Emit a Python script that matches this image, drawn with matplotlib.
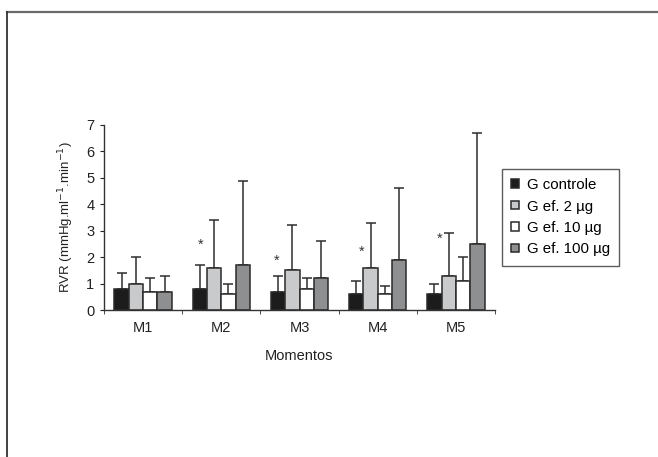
import matplotlib
matplotlib.use("Agg")
import matplotlib.pyplot as plt
import numpy as np
from matplotlib.lines import Line2D

plt.rcParams['font.family'] = ['Liberation Sans', 'DejaVu Sans']

categories = ["M1", "M2", "M3", "M4", "M5"]
series_names = ["G controle", "G ef. 2 µg", "G ef. 10 µg", "G ef. 100 µg"]
means = {
    "G controle":   [0.8, 0.8, 0.7, 0.6, 0.6],
    "G ef. 2 µg":   [1.0, 1.6, 1.5, 1.6, 1.3],
    "G ef. 10 µg":  [0.7, 0.6, 0.8, 0.6, 1.1],
    "G ef. 100 µg": [0.7, 1.7, 1.2, 1.9, 2.5],
}
upper = {
    "G controle":   [1.4, 1.7, 1.3, 1.1, 1.0],
    "G ef. 2 µg":   [2.0, 3.4, 3.2, 3.3, 2.9],
    "G ef. 10 µg":  [1.2, 1.0, 1.2, 0.9, 2.0],
    "G ef. 100 µg": [1.3, 4.9, 2.6, 4.6, 6.7],
}
colors = ["#1c1c1c", "#c9cacb", "#ffffff", "#8e8f91"]
star_cats = ["M2", "M3", "M4", "M5"]
star_y = [2.45, 1.85, 2.2, 2.7]
star_dx = [-0.27, -0.29, -0.21, -0.21]

fig = plt.figure(figsize=(6.58, 4.57), dpi=100)
# outer frame lines
fig.add_artist(Line2D([7/658, 1.0], [1-12/457, 1-12/457], color="#6a6a6a", lw=1.6, transform=fig.transFigure))
fig.add_artist(Line2D([7/658, 7/658], [0, 1-12/457], color="#333333", lw=1.3, transform=fig.transFigure))

ax = fig.add_axes([104/658, 1-310/457, 391/658, 185/457])
x = np.arange(len(categories))
w = 0.183
for i, name in enumerate(series_names):
    pos = x + (i - 1.5) * w
    m = np.array(means[name])
    u = np.array(upper[name])
    ax.errorbar(pos, m, yerr=[np.zeros_like(m), u - m], fmt='none', ecolor="#2e2e2e",
                elinewidth=1.1, capsize=3.5, capthick=1.1, zorder=1)
    ax.bar(pos, m, width=w, color=colors[i], edgecolor="#2a2a2a", linewidth=1.1,
           label=name, zorder=2)

for c, yv, dx in zip(star_cats, star_y, star_dx):
    ci = categories.index(c)
    ax.text(ci + dx, yv, "*", ha="center", va="center", fontsize=10.5, color="#333333")

ax.set_xlim(-0.5, len(categories) - 0.5)
ax.set_ylim(0, 7)
ax.set_yticks(range(0, 8))
ax.set_xticks(x)
ax.set_xticklabels(categories)
ax.set_xticks(np.arange(-0.5, len(categories)), minor=True)
ax.tick_params(axis='x', which='major', length=0, pad=8, labelsize=10.5, colors="#222222")
ax.tick_params(axis='x', which='minor', length=3, direction='out', color="#333333")
ax.tick_params(axis='y', length=3, direction='out', labelsize=10.5, colors="#222222", pad=4)
for s in ["top", "right"]:
    ax.spines[s].set_visible(False)
for s in ["left", "bottom"]:
    ax.spines[s].set_color("#333333")
    ax.spines[s].set_linewidth(1.0)
ax.set_xlabel("Momentos", fontsize=10.5, color="#222222", labelpad=10)
ax.set_ylabel("RVR (mmHg.ml$^{-1}$.min$^{-1}$)", fontsize=9.5, color="#222222", labelpad=7)

leg = fig.legend(loc="upper left", bbox_to_anchor=(502/658, 1-169/457), fontsize=10.8,
                 borderaxespad=0, handlelength=0.5, handleheight=0.5, handletextpad=0.55,
                 labelspacing=0.5, borderpad=0.6, frameon=True, fancybox=False,
                 edgecolor="#333333")
leg.get_frame().set_linewidth(1.0)

fig.savefig("out.png", dpi=100)
